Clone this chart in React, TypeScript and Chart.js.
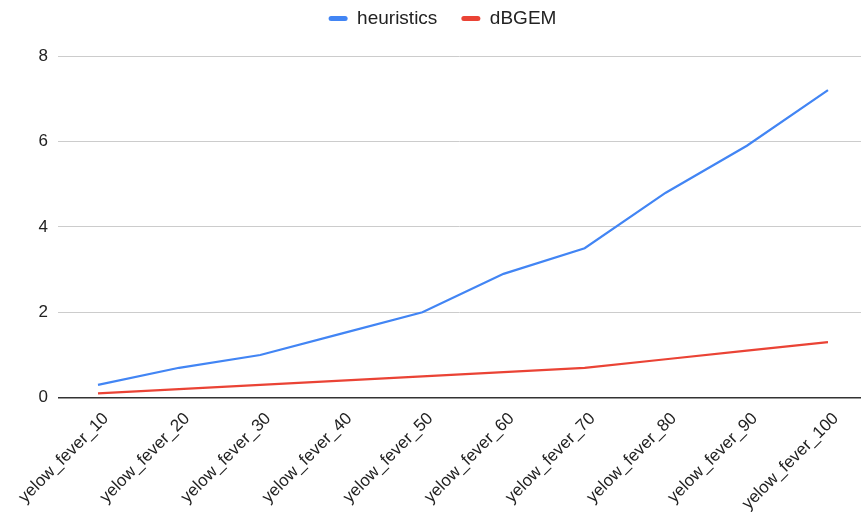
import React, { useEffect, useRef } from "react";
import { Chart, registerables } from "chart.js";

Chart.register(...registerables);

const categories = [
  "yelow_fever_10",
  "yelow_fever_20",
  "yelow_fever_30",
  "yelow_fever_40",
  "yelow_fever_50",
  "yelow_fever_60",
  "yelow_fever_70",
  "yelow_fever_80",
  "yelow_fever_90",
  "yelow_fever_100",
];

const heuristics = [0.3, 0.7, 1.0, 1.5, 2.0, 2.9, 3.5, 4.8, 5.9, 7.2];
const dBGEM = [0.1, 0.2, 0.3, 0.4, 0.5, 0.6, 0.7, 0.9, 1.1, 1.3];

const yTicks = [0, 2, 4, 6, 8];

const FONT = "'Liberation Sans', Arial, sans-serif";
const TEXT = "#222222";

// Nudges the legend row after layout so it sits close to the top edge
// while keeping wide spacing between its items.
const legendNudge = {
  id: "legendNudge",
  afterLayout(chart: any) {
    const lg = chart.legend;
    if (!lg) return;
    lg.top -= 18;
    lg.bottom -= 18;
    lg.left += 12;
    lg.right += 12;
  },
};

export default function App() {
  const canvasRef = useRef<HTMLCanvasElement | null>(null);

  useEffect(() => {
    const canvas = canvasRef.current;
    if (!canvas) return;

    const toPoints = (vals: number[]) => vals.map((y, i) => ({ x: i, y }));

    const chart = new Chart(canvas, {
      type: "line",
      data: {
        datasets: [
          {
            label: "heuristics",
            data: toPoints(heuristics),
            borderColor: "#4285F4",
            backgroundColor: "#4285F4",
            borderWidth: 2.2,
            pointRadius: 0,
            tension: 0,
          },
          {
            label: "dBGEM",
            data: toPoints(dBGEM),
            borderColor: "#EA4335",
            backgroundColor: "#EA4335",
            borderWidth: 2.2,
            pointRadius: 0,
            tension: 0,
          },
        ],
      },
      plugins: [legendNudge],
      options: {
        responsive: false,
        animation: false,
        layout: { padding: { left: 0, right: 0, top: 3, bottom: 0 } },
        plugins: {
          tooltip: { enabled: false },
          legend: {
            position: "top",
            align: "center",
            labels: {
              font: { family: FONT, size: 19 },
              color: TEXT,
              boxWidth: 19,
              boxHeight: 5,
              padding: 24,
              useBorderRadius: true,
              borderRadius: 2.5,
              generateLabels: (c: any) =>
                c.data.datasets.map((ds: any, i: number) => ({
                  text: ds.label,
                  fillStyle: ds.borderColor,
                  strokeStyle: ds.borderColor,
                  lineWidth: 0,
                  borderRadius: 2.5,
                  hidden: !c.isDatasetVisible(i),
                  datasetIndex: i,
                  fontColor: TEXT,
                })),
            },
          },
        },
        scales: {
          x: {
            type: "linear",
            min: -0.493,
            max: 9.407,
            afterBuildTicks: (axis: any) => {
              axis.ticks = categories.map((_, i) => ({ value: i }));
            },
            ticks: {
              autoSkip: false,
              maxRotation: 45,
              minRotation: 45,
              padding: 3,
              labelOffset: 8,
              color: TEXT,
              font: { family: FONT, size: 17 },
              callback: (v: any) => categories[v as number] ?? "",
            },
            grid: { display: false },
            border: { display: false },
          },
          y: {
            min: 0,
            max: 8,
            afterBuildTicks: (axis: any) => {
              axis.ticks = yTicks.map((v) => ({ value: v }));
            },
            afterFit: (axis: any) => {
              axis.width = 58;
            },
            ticks: {
              padding: 10,
              color: TEXT,
              font: { family: FONT, size: 17 },
            },
            grid: {
              drawTicks: false,
              color: (ctx: any) => (ctx.tick && ctx.tick.value === 0 ? "#333333" : "#cccccc"),
              lineWidth: (ctx: any) => (ctx.tick && ctx.tick.value === 0 ? 1.5 : 1),
            },
            border: { display: false },
          },
        },
      },
    } as any);

    return () => chart.destroy();
  }, []);

  return (
    <div style={{ position: "fixed", left: 0, top: 0, width: 861, height: 517, background: "#fff" }}>
      <canvas ref={canvasRef} width={861} height={517} style={{ display: "block" }} />
    </div>
  );
}
